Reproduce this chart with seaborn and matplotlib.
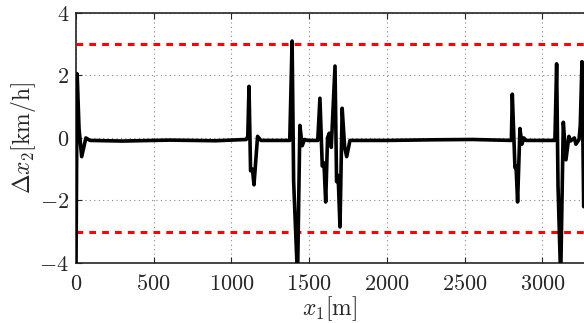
import matplotlib
matplotlib.use("Agg")
import matplotlib.pyplot as plt
import pandas as pd
import seaborn as sns

# distância percorrida [m]
x_pos = [0, 8, 20, 37, 64, 90, 300, 600, 900, 1095, 1105, 1113, 1123, 1135,
         1145, 1168, 1190, 1300, 1375, 1390, 1400, 1425, 1440, 1455, 1470,
         1490, 1555, 1569, 1584, 1595, 1606, 1618, 1629, 1642, 1666, 1676,
         1686, 1698, 1712, 1728, 1741, 1762, 2000, 2300, 2550, 2800, 2806,
         2823, 2830, 2840, 2855, 2868, 2880, 2895, 3080, 3091, 3100, 3117,
         3134, 3151, 3170, 3180, 3205, 3215, 3235, 3243, 3254, 3265]
# erro de velocidade [km/h]
dx2 = [-4.5, 2.05, 0.3, -0.6, 0.0, -0.08, -0.1, -0.07, -0.09, -0.05, 0.05,
       1.65, -1.05, -1.0, -1.5, 0.05, -0.08, -0.08, -0.08, 3.1, -1.4, -4.5,
       0.4, -0.25, -0.05, -0.08, -0.08, 1.27, -0.9, -0.8, -2.05, 0.0, 0.15,
       -0.3, 2.3, -1.4, -1.2, -2.85, 0.95, -0.3, -0.6, -0.08, -0.08, -0.06,
       -0.05, -0.08, 1.4, -0.95, -0.9, -2.05, 0.3, -0.2, 0.0, -0.08, -0.08,
       2.37, -1.55, -4.5, 0.5, -0.7, 0.05, -0.1, 0.0, -0.2, -0.05, 0.4,
       2.44, -2.2]
limite = 3.0
x_ticks = [0, 500, 1000, 1500, 2000, 2500, 3000]
y_ticks = [-4, -2, 0, 2, 4]

sns.set_style("ticks")
plt.rcParams["mathtext.fontset"] = "cm"
plt.rcParams["font.family"] = "serif"
plt.rcParams["font.serif"] = ["cmr10", "DejaVu Serif"]
plt.rcParams["axes.formatter.use_mathtext"] = True
plt.rcParams["axes.unicode_minus"] = True

df = pd.DataFrame({"x1": x_pos, "dx2": dx2})

fig = plt.figure(figsize=(5.84, 3.23), dpi=100)
ax = fig.add_axes([0.130, 0.186, 0.870, 0.774])

ax.grid(True, color="#888888", linestyle=(0, (1, 3)), linewidth=0.8)
ax.axhline(limite, color="red", linewidth=2.2, dashes=(2.2, 2.0), zorder=3)
ax.axhline(-limite, color="red", linewidth=2.2, dashes=(2.2, 2.0), zorder=3)
sns.lineplot(data=df, x="x1", y="dx2", sort=False, estimator=None,
             color="black", linewidth=2.6, ax=ax, zorder=4)

ax.set_xlim(0, 3267)
ax.set_ylim(-4, 4)
ax.set_xticks(x_ticks)
ax.set_yticks(y_ticks)
ax.tick_params(direction="in", length=4, width=0.8, labelsize=16,
               top=True, right=False)
ax.tick_params(axis="x", pad=8)
ax.tick_params(axis="y", pad=5)
ax.spines["right"].set_visible(False)
for s in ["left", "bottom", "top"]:
    ax.spines[s].set_linewidth(1.2)
ax.set_xlabel(r"$x_1[\mathrm{m}]$", fontsize=17, labelpad=0)
ax.set_ylabel(r"$\Delta x_2[\mathrm{km/h}]$", fontsize=17, labelpad=1)

fig.savefig("out.png", dpi=100)
